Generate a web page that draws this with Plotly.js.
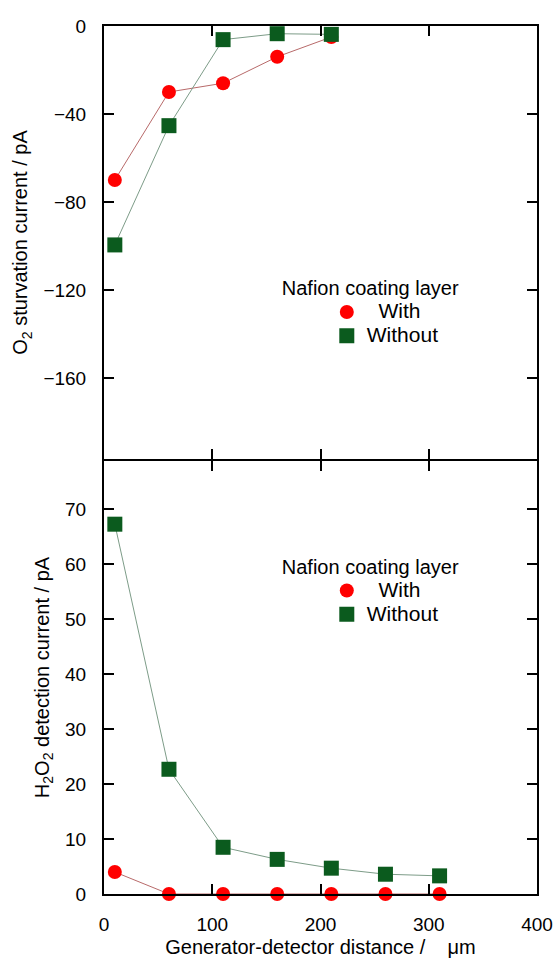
<!DOCTYPE html>
<html>
<head>
<meta charset="utf-8">
<script src="https://cdn.plot.ly/plotly-3.0.1.min.js"></script>
<style>html,body{margin:0;padding:0;background:#fff;}#chart{width:553px;height:958px;}</style>
</head>
<body>
<div id="chart"></div>
<script>
// Distances (µm)
const xO2 = [10, 60, 110, 160, 210];
const xH2O2 = [10, 60, 110, 160, 210, 260, 310];
// O2 starvation current (pA)
const o2With = [-70, -30, -26, -14, -5];
const o2Without = [-99.5, -45.3, -6.2, -3.5, -3.8];
// H2O2 detection current (pA)
const h2o2With = [4, 0, 0, 0, 0, 0, 0];
const h2o2Without = [67.3, 22.7, 8.5, 6.3, 4.7, 3.6, 3.3];
// Ticks
const xTicks = [0, 100, 200, 300, 400];
const yTicksO2 = [0, -40, -80, -120, -160];
const yTicksH2O2 = [0, 10, 20, 30, 40, 50, 60, 70];
const seriesNames = ['\u00a0\u00a0With', 'Without'];
const legendTitle = 'Nafion coating layer';

const FONT = 'Liberation Sans, Arial, sans-serif';
const RED = '#ff0000', GREEN = '#0b5b1e';
const RED_LINE = '#b86a6a', GREEN_LINE = '#7d9c88';

function lineTrace(x, y, color, xa, ya) {
  return {x: x, y: y, xaxis: xa, yaxis: ya, mode: 'lines', type: 'scatter',
    line: {color: color, width: 1}, showlegend: false, hoverinfo: 'skip', cliponaxis: false};
}
function markerTrace(x, y, name, color, symbol, size, xa, ya, leg) {
  return {x: x, y: y, xaxis: xa, yaxis: ya, mode: 'markers', type: 'scatter',
    name: '<span style="font-size:21px">' + name + '</span>',
    marker: {color: color, symbol: symbol, size: size, line: {width: 0}},
    legend: leg, cliponaxis: false};
}

const data = [
  lineTrace(xO2, o2With, RED_LINE, 'x2', 'y2'),
  lineTrace(xO2, o2Without, GREEN_LINE, 'x2', 'y2'),
  lineTrace(xH2O2, h2o2With, RED_LINE, 'x', 'y'),
  lineTrace(xH2O2, h2o2Without, GREEN_LINE, 'x', 'y'),
  markerTrace(xO2, o2With, seriesNames[0], RED, 'circle', 14, 'x2', 'y2', 'legend'),
  markerTrace(xO2, o2Without, seriesNames[1], GREEN, 'square', 15, 'x2', 'y2', 'legend'),
  markerTrace(xH2O2, h2o2With, seriesNames[0], RED, 'circle', 14, 'x', 'y', 'legend2'),
  markerTrace(xH2O2, h2o2Without, seriesNames[1], GREEN, 'square', 15, 'x', 'y', 'legend2')
];

const axisCommon = {
  ticks: 'inside', ticklen: 10, tickwidth: 2, tickcolor: '#000',
  showline: true, linewidth: 2, linecolor: '#000', mirror: 'ticks',
  showgrid: false, zeroline: false,
  tickfont: {family: FONT, size: 19, color: '#000'}
};

const legendCommon = {
  xanchor: 'left', yanchor: 'top', bgcolor: 'rgba(0,0,0,0)',
  font: {family: FONT, size: 16}, indentation: 47, traceorder: 'normal',
  title: {text: legendTitle, side: 'top', font: {family: FONT, size: 20}}
};

const layout = {
  width: 553, height: 958,
  margin: {l: 104, r: 16, t: 26, b: 64},
  paper_bgcolor: '#fff', plot_bgcolor: '#fff',
  font: {family: FONT, color: '#000'},
  xaxis: Object.assign({}, axisCommon, {
    domain: [0, 1], anchor: 'y', range: [0, 400], tickmode: 'array', tickvals: xTicks,
    ticklabelstandoff: 12,
    title: {text: 'Generator-detector distance /\u00a0\u00a0\u00a0\u00a0\u03bcm', font: {family: FONT, size: 20}, standoff: 6}
  }),
  yaxis: Object.assign({}, axisCommon, {
    domain: [0, 0.49885], anchor: 'x', range: [0, 78.8], tickmode: 'array', tickvals: yTicksH2O2,
    ticklabelstandoff: 12,
    title: {text: 'H<sub>2</sub>O<sub>2</sub> detection current / pA', font: {family: FONT, size: 20}, standoff: 10}
  }),
  xaxis2: Object.assign({}, axisCommon, {
    domain: [0, 1], anchor: 'y2', range: [0, 400], tickmode: 'array', tickvals: xTicks,
    showticklabels: false
  }),
  yaxis2: Object.assign({}, axisCommon, {
    domain: [0.50115, 1], anchor: 'x2', range: [-196.8, 0], tickmode: 'array', tickvals: yTicksO2,
    ticklabelstandoff: 12,
    title: {text: 'O<sub>2</sub> sturvation current / pA', font: {family: FONT, size: 20}, standoff: 10}
  }),
  legend: Object.assign({}, legendCommon, {x: 0.406, y: 0.72}),
  legend2: Object.assign({}, legendCommon, {x: 0.406, y: 0.399})
};

Plotly.newPlot('chart', data, layout, {displayModeBar: false, staticPlot: true});
</script>
</body>
</html>
